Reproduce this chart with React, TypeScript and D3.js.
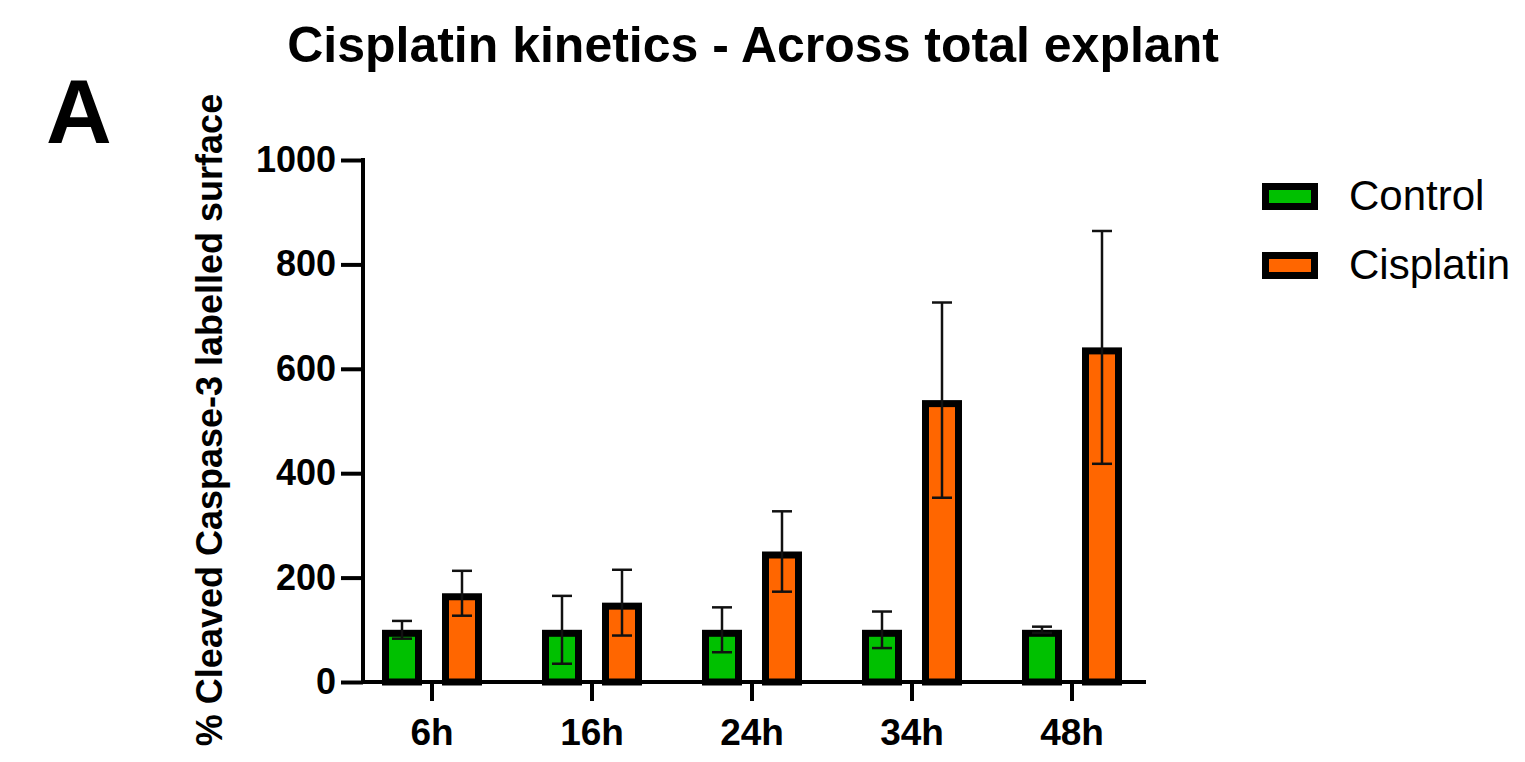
import React, { useEffect, useRef } from 'react';
import * as d3 from 'd3';

const timepoints = ['6h', '16h', '24h', '34h', '48h'];
const controlMean = [100, 100, 100, 100, 100];
const controlErr = [17, 65, 43, 35, 6];
const cisplatinMean = [170, 152, 250, 540, 641];
const cisplatinErr = [43, 63, 77, 187, 223];
const yTicks = [0, 200, 400, 600, 800, 1000];

const series = [
  { name: 'Control', color: '#00c000', mean: controlMean, err: controlErr, offset: -30 },
  { name: 'Cisplatin', color: '#ff6600', mean: cisplatinMean, err: cisplatinErr, offset: 30 },
];

const FONT = '"Liberation Sans", Arial, sans-serif';

function App() {
  const svgRef = useRef<SVGSVGElement>(null);

  useEffect(() => {
    const svg = d3.select(svgRef.current);
    svg.selectAll('*').remove();

    // scales
    const x = d3.scaleBand().domain(timepoints).range([352, 1152]).padding(0);
    const y = d3.scaleLinear().domain([0, 1000]).range([682, 160]);

    const barW = 40;
    const sw = 7;

    // title
    svg
      .append('text')
      .attr('x', 753)
      .attr('y', 62)
      .attr('text-anchor', 'middle')
      .style('font-family', FONT)
      .style('font-weight', 'bold')
      .style('font-size', '50px')
      .text('Cisplatin kinetics - Across total explant');

    // panel letter
    svg
      .append('text')
      .attr('x', 46)
      .attr('y', 143)
      .style('font-family', FONT)
      .style('font-weight', 'bold')
      .style('font-size', '91px')
      .text('A');

    // bars
    series.forEach((s) => {
      const g = svg.append('g');
      timepoints.forEach((t, i) => {
        const cx = (x(t) as number) + x.bandwidth() / 2 + s.offset;
        const top = y(s.mean[i]);
        g.append('rect')
          .attr('x', cx - barW / 2 + sw / 2)
          .attr('y', top + sw / 2)
          .attr('width', barW - sw)
          .attr('height', y(0) - top - sw / 2)
          .style('fill', s.color)
          .style('stroke', '#000')
          .style('stroke-width', sw);
      });
    });

    // error bars
    series.forEach((s) => {
      const g = svg.append('g').style('stroke', '#111').style('stroke-width', 2.5);
      timepoints.forEach((t, i) => {
        const cx = (x(t) as number) + x.bandwidth() / 2 + s.offset;
        const hi = y(s.mean[i] + s.err[i]);
        const lo = y(s.mean[i] - s.err[i]);
        g.append('line').attr('x1', cx).attr('x2', cx).attr('y1', hi).attr('y2', lo);
        g.append('line').attr('x1', cx - 10).attr('x2', cx + 10).attr('y1', hi).attr('y2', hi);
        g.append('line').attr('x1', cx - 10).attr('x2', cx + 10).attr('y1', lo).attr('y2', lo);
      });
    });

    // y axis
    const yAxis = svg
      .append('g')
      .attr('transform', 'translate(363,0)')
      .call(
        d3
          .axisLeft(y)
          .tickValues(yTicks)
          .tickSize(22)
          .tickPadding(5)
          .tickFormat(d3.format('d')),
      );
    yAxis.select('.domain').remove();
    yAxis.selectAll('line').style('stroke', '#000').style('stroke-width', 4);
    yAxis
      .selectAll('text')
      .style('font-family', FONT)
      .style('font-weight', 'bold')
      .style('font-size', '36px')
      .style('fill', '#000');
    svg
      .append('line')
      .attr('x1', 363)
      .attr('x2', 363)
      .attr('y1', y(1000) - 2)
      .attr('y2', y(0) + 2)
      .style('stroke', '#000')
      .style('stroke-width', 4);

    // x axis
    const xAxis = svg
      .append('g')
      .attr('transform', `translate(0,${y(0)})`)
      .call(d3.axisBottom(x).tickSize(19).tickPadding(8));
    xAxis.select('.domain').remove();
    xAxis.selectAll('line').style('stroke', '#000').style('stroke-width', 4);
    xAxis
      .selectAll('text')
      .attr('y', 0)
      .attr('dy', 0)
      .attr('transform', 'translate(0,63)')
      .style('font-family', FONT)
      .style('font-weight', 'bold')
      .style('font-size', '37px')
      .style('fill', '#000');
    svg
      .append('line')
      .attr('x1', 361)
      .attr('x2', 1146)
      .attr('y1', y(0))
      .attr('y2', y(0))
      .style('stroke', '#000')
      .style('stroke-width', 4);

    // y axis title
    svg
      .append('text')
      .attr('transform', 'translate(222,420)rotate(-90)')
      .attr('text-anchor', 'middle')
      .style('font-family', FONT)
      .style('font-weight', 'bold')
      .style('font-size', '36px')
      .text('% Cleaved Caspase-3 labelled surface');

    // legend
    const legend = svg
      .append('g')
      .selectAll('g')
      .data(series)
      .enter()
      .append('g')
      .attr('transform', (d, i) => `translate(1262, ${183 + i * 69})`);

    legend
      .append('rect')
      .attr('x', 3.5)
      .attr('y', 3.5)
      .attr('width', 49)
      .attr('height', 20)
      .style('fill', (d) => d.color)
      .style('stroke', '#000')
      .style('stroke-width', 7);

    legend
      .append('text')
      .attr('x', 87)
      .attr('y', 27)
      .style('font-family', FONT)
      .style('font-size', '42px')
      .style('fill', '#000')
      .text((d) => d.name);
  }, []);

  return (
    <svg
      ref={svgRef}
      width={1525}
      height={762}
      style={{ position: 'absolute', left: 0, top: 0, background: '#fff' }}
    />
  );
}

export default App;
